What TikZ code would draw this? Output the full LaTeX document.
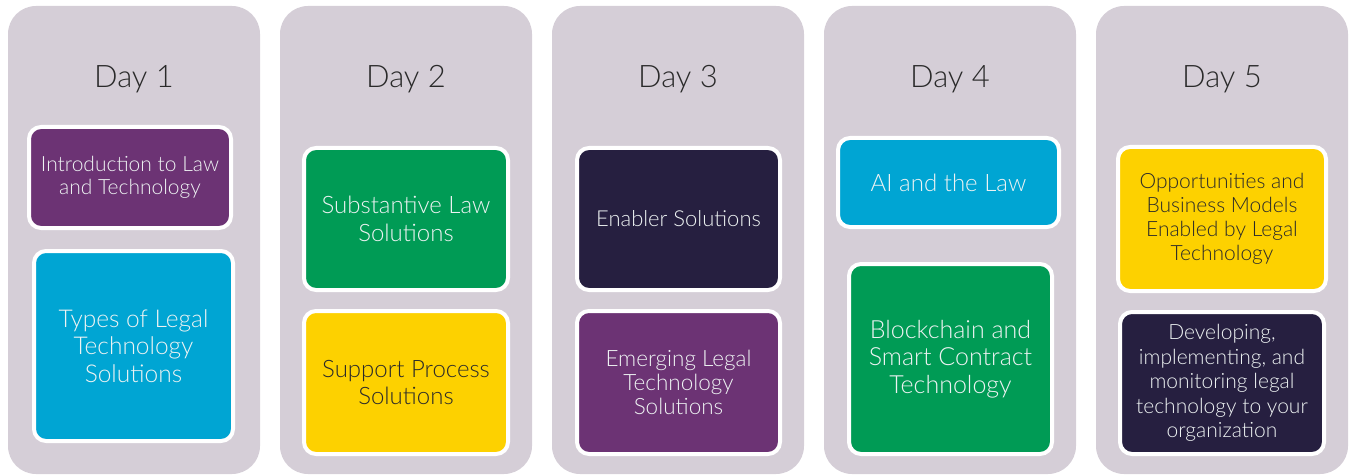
\documentclass[tikz,border=0pt]{standalone}
\usepackage{fontspec}
\setmainfont{Lato Light}
\definecolor{panelc}{HTML}{D5CED7}
\definecolor{purp}{HTML}{6C3374}
\definecolor{cyanb}{HTML}{00A5D3}
\definecolor{greenb}{HTML}{009B55}
\definecolor{yellowb}{HTML}{FDD100}
\definecolor{darkb}{HTML}{261F40}
\definecolor{lighttxt}{HTML}{EEF3F3}
\definecolor{titletxt}{HTML}{2A2A2A}
\tikzset{
  panel/.style={fill=panelc, draw=none, rounded corners=28pt},
  daytitle/.style={text=titletxt, font=\fontsize{31}{38}\selectfont},
  topic/.style={draw=white, line width=4pt, rounded corners=12pt, align=center, inner sep=0pt},
  lt/.style={text=lighttxt},
  dt/.style={text=titletxt},
}
\begin{document}
\begin{tikzpicture}[x=1pt,y=-1pt]
\useasboundingbox (0,0) rectangle (1350,476);
% panels
\foreach \i/\x in {1/8,2/280,3/552,4/824,5/1096}{
  \path[panel] (\x,6) rectangle ++(252,468);
}
\node[daytitle] (t1) at (134,79) {Day 1};
\node[daytitle] (t2) at (406,79) {Day 2};
\node[daytitle] (t3) at (678,79) {Day 3};
\node[daytitle] (t4) at (950,79) {Day 4};
\node[daytitle] (t5) at (1222,79) {Day 5};
% Day 1
\node[topic, lt, fill=purp, minimum width=202pt, minimum height=101pt, font=\fontsize{21}{23.5}\selectfont] (d1a) at (130,177.5) {Introduction to Law\\and Technology};
\node[topic, lt, fill=cyanb, minimum width=199pt, minimum height=190pt, font=\fontsize{24.5}{27.5}\selectfont] (d1b) at (133.5,346) {Types of Legal\\Technology\\Solutions};
% Day 2
\node[topic, lt, fill=greenb, minimum width=204pt, minimum height=142pt, font=\fontsize{24}{27.5}\selectfont] (d2a) at (406,219) {Substantive Law\\Solutions};
\node[topic, dt, fill=yellowb, minimum width=204pt, minimum height=143pt, font=\fontsize{24}{27.5}\selectfont] (d2b) at (406,382.5) {Support Process\\Solutions};
% Day 3
\node[topic, lt, fill=darkb, minimum width=203pt, minimum height=142pt, font=\fontsize{22}{24}\selectfont] (d3a) at (678.5,219) {Enabler Solutions};
\node[topic, lt, fill=purp, minimum width=203pt, minimum height=143pt, font=\fontsize{22.5}{24}\selectfont] (d3b) at (678.5,382.5) {Emerging Legal\\Technology\\Solutions};
% Day 4
\node[topic, lt, fill=cyanb, minimum width=221pt, minimum height=89pt, font=\fontsize{24}{26}\selectfont] (d4a) at (948.5,182.5) {AI and the Law};
\node[topic, lt, fill=greenb, minimum width=203pt, minimum height=190pt, font=\fontsize{25}{27.5}\selectfont] (d4b) at (950.5,359) {Blockchain and\\Smart Contract\\Technology};
% Day 5
\node[topic, dt, fill=yellowb, minimum width=208pt, minimum height=144pt, font=\fontsize{21}{24}\selectfont] (d5a) at (1222,219) {Opportunities and\\Business Models\\Enabled by Legal\\Technology};
\node[topic, lt, fill=darkb, minimum width=204pt, minimum height=142pt, font=\fontsize{21}{24.5}\selectfont] (d5b) at (1222,383) {Developing,\\implementing, and\\monitoring legal\\technology to your\\organization};
\end{tikzpicture}
\end{document}
